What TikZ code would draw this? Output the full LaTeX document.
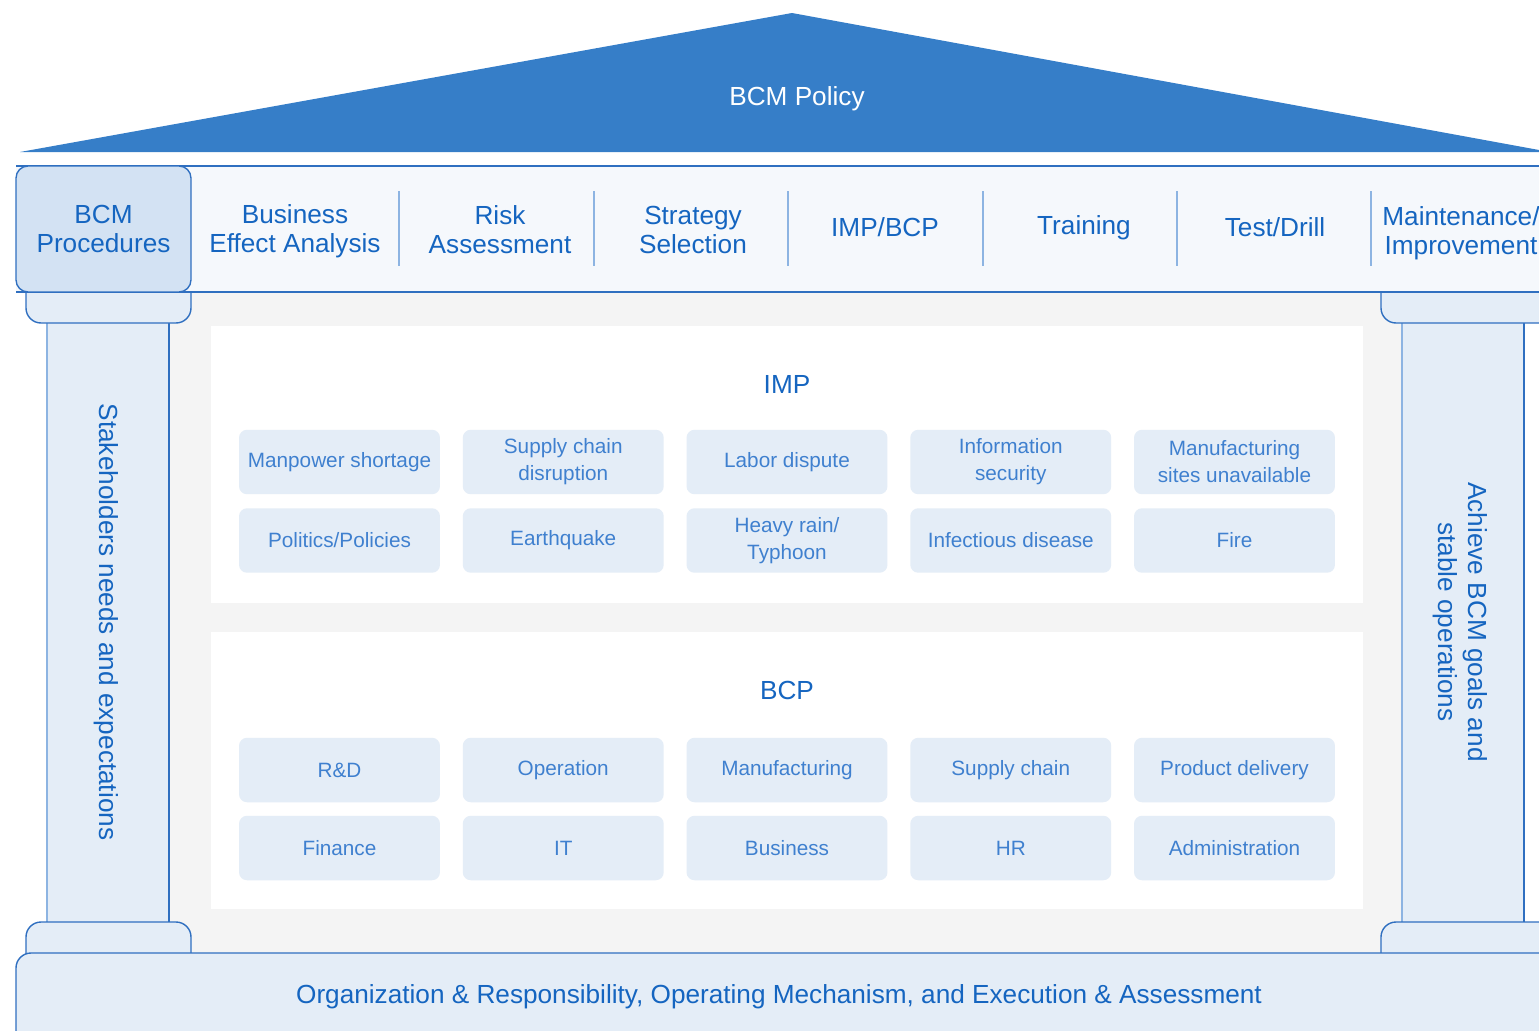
\documentclass[tikz,border=0pt]{standalone}
\usepackage{fontspec}
\setmainfont{Liberation Sans}
\usetikzlibrary{positioning}

\definecolor{roofblue}{HTML}{367EC8}
\definecolor{edgeblue}{HTML}{2F6FC0}
\definecolor{lightedge}{HTML}{8DB4E2}
\definecolor{headtext}{HTML}{1565C0}
\definecolor{celltext}{HTML}{3F80CF}
\definecolor{cellfill}{HTML}{E4EDF7}
\definecolor{procfill}{HTML}{D3E2F3}
\definecolor{beamfill}{HTML}{F5F8FC}
\definecolor{hallgray}{HTML}{F4F4F4}

\newcommand{\headfont}{\fontsize{14.9pt}{16.5pt}\selectfont}
\newcommand{\cellfont}{\fontsize{11.8pt}{15.3pt}\selectfont}

\tikzset{
  cell/.style={fill=cellfill, rounded corners=0.16cm, minimum width=4.02cm,
    minimum height=1.29cm, inner sep=0pt, text=celltext, font=\cellfont, align=center},
  head/.style={text=headtext, font=\headfont, align=center},
  pillar/.style={fill=cellfill, draw=edgeblue, line width=0.8pt},
}

\begin{document}
\begin{tikzpicture}[x=0.02cm, y=-0.02cm]
\useasboundingbox (0,0) rectangle (1539,1031);
\clip (0,0) rectangle (1539,1031);

% hall behind the pillars
\fill[hallgray] (169,292) rectangle (1402,953);
\fill[white] (211,326) rectangle (1363,603);
\fill[white] (211,632) rectangle (1363,909);

% pillars
\fill[cellfill] (47,300) rectangle (169,940);
\draw[lightedge, line width=0.8pt] (47,300) -- (47,940);
\draw[edgeblue, line width=0.8pt] (169,300) -- (169,940);
\fill[cellfill] (1402,300) rectangle (1524,940);
\draw[lightedge, line width=0.8pt] (1402,300) -- (1402,940);
\draw[edgeblue, line width=0.8pt] (1524,300) -- (1524,940);

% capitals and bases of the pillars
\filldraw[pillar, rounded corners=0.3cm] (26,270) rectangle (191,323);
\filldraw[pillar, rounded corners=0.3cm] (1381,270) rectangle (1560,323);
\filldraw[pillar, rounded corners=0.3cm] (26,922) rectangle (191,975);
\filldraw[pillar, rounded corners=0.3cm] (1381,922) rectangle (1560,975);

% beam
\fill[beamfill] (16,166) rectangle (1560,292);
\draw[edgeblue, line width=0.8pt] (16,166) -- (1560,166);
\draw[edgeblue, line width=0.8pt] (16,292) -- (1560,292);
\foreach \x in {399,594,788,983,1177,1371}
  \draw[lightedge, line width=1pt] (\x,191) -- (\x,266);

\node[fill=procfill, draw=edgeblue, line width=0.8pt, rounded corners=0.24cm,
  minimum width=3.5cm, minimum height=2.52cm, inner sep=0pt, head] (proc) at (103.5,229) {BCM\\Procedures};
\node[head] (bia) at (295,231) {Business\\Effect Analysis};
\node[head] (risk) at (500,230) {Risk\\Assessment};
\node[head] (strat) at (693,230) {Strategy\\Selection};
\node[head] (impbcp) at (885,227) {IMP/BCP};
\node[head] (train) at (1084,228) {Training};
\node[head] (drill) at (1275,227) {Test/Drill};
\node[head] (maint) at (1461,233) {Maintenance/\\Improvement};

% foundation
\filldraw[fill=cellfill, draw=edgeblue, line width=0.8pt, rounded corners=0.3cm] (16,953) rectangle (1580,1080);
\node[head] (found) at (779,997) {Organization \& Responsibility, Operating Mechanism, and Execution \& Assessment};

% roof
\fill[roofblue] (20,152) -- (792,13) -- (1539,150) -- (1539,152) -- cycle;
\node[text=white, font=\headfont] (policy) at (797,99) {BCM Policy};

% pillar texts
\node[head, rotate=-90] (stake) at (106,622) {Stakeholders needs and expectations};
\node[head, rotate=-90, font=\fontsize{14.9pt}{17pt}\selectfont] (goals) at (1460,622) {Achieve BCM goals and\\stable operations};

% IMP
\node[head] (imp) at (787,384) {IMP};
\foreach \txt [count=\i from 0] in {Manpower shortage, {Supply chain\\disruption}, Labor dispute, {Information\\security}, {Manufacturing\\sites unavailable}}
  \node[cell] (impa\i) at (339.5+\i*223.75,462) {\txt};
\foreach \txt [count=\i from 0] in {Politics/Policies, Earthquake, {Heavy rain/\\Typhoon}, Infectious disease, Fire}
  \node[cell] (impb\i) at (339.5+\i*223.75,540.5) {\txt};

% BCP
\node[head] (bcp) at (787,690) {BCP};
\foreach \txt [count=\i from 0] in {R\&D, Operation, Manufacturing, Supply chain, Product delivery}
  \node[cell] (bcpa\i) at (339.5+\i*223.75,770) {\txt};
\foreach \txt [count=\i from 0] in {Finance, IT, Business, HR, Administration}
  \node[cell] (bcpb\i) at (339.5+\i*223.75,848) {\txt};
\end{tikzpicture}
\end{document}
